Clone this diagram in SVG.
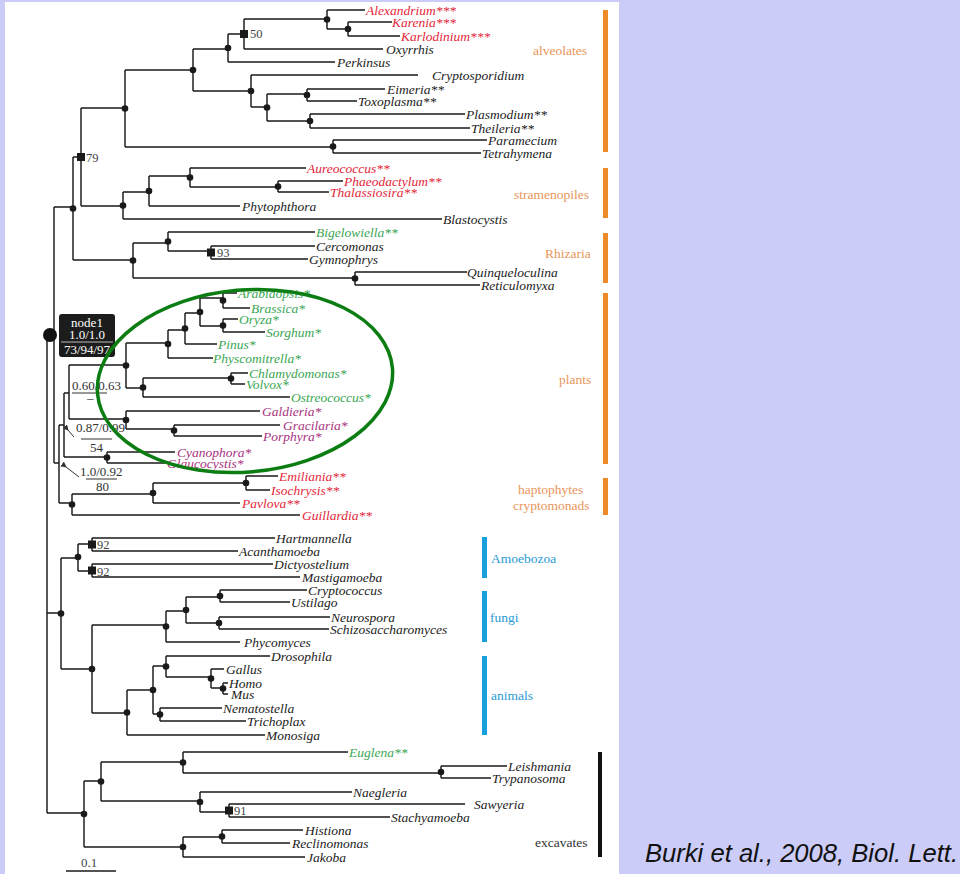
<svg xmlns="http://www.w3.org/2000/svg" width="960" height="874" viewBox="0 0 960 874">
<style>
.e{fill:none;stroke:#1a1a1a;stroke-width:1.45}
.t{font-family:"Liberation Serif",serif;font-style:italic;font-size:13.5px;fill:#222}
.r{fill:#e3263a}.g{fill:#3aa655}.p{fill:#a8327e}
.n{font-family:"Liberation Serif",serif;font-size:12.5px;fill:#444}
.d{fill:#1a1a1a}
.grp{font-family:"Liberation Serif",serif;font-size:13.5px}
.o{fill:#e8955a}.b{fill:#2a9ad6}
.ob{fill:#ee8a2a}.bb{fill:#18a0dc}
.f{font-family:"Liberation Serif",serif;font-size:13px;fill:#333}
</style>
<defs>
<marker id="ah" markerWidth="6" markerHeight="6" refX="1" refY="3" orient="auto" markerUnits="userSpaceOnUse"><path d="M6,0L0,3L6,6z" fill="#333"/></marker>
</defs>
<rect x="0" y="0" width="960" height="874" fill="#ccccf8"/>
<rect x="5" y="2" width="614" height="872" fill="#ffffff"/>
<g id="edges" class="e">
<path d="M47,335V813M47,335H54M54,207V463M54,207H73M47,613H61M47,813H84
M73,157V260M73,157H81M73,260H133M81,108V206M81,108H125M81,206H123
M125,70V147M125,70H193M125,147H333M193,49V91M193,49H228M193,91H251
M228,34V62M228,34H244M228,62H335M244,19V49M244,19H327M244,49H383
M327,10V29M327,10H365M327,29H348M348,22V36M348,22H392M348,36H400
M251,75V107M251,75H418M251,107H267M267,94V121M267,94H307M267,121H310
M307,89V101M307,89H385M307,101H357M310,114V128M310,114H465M310,128H470
M333,140V153M333,140H487M333,153H481
M123,192V219M123,192H149M123,219H442M149,176V206M149,176H190M149,206H240
M190,168V187M190,168H306M190,187H278M278,181V192M278,181H343M278,192H329
M133,243V278M133,243H168M133,278H355M168,232V251M168,232H315M168,251H211
M211,246V259M211,246H315M211,259H308M355,272V285M355,272H467M355,285H480
M54,463H59M59,425V503M59,425H64M59,503H72M64,393V457M64,393H69M64,457H107
M69,365V419M69,365H126M69,419H126M126,343V388M126,343H168M126,388H143
M168,330V358M168,330H185M168,358H213M185,313V344M185,313H200M185,344H217
M200,298V326M200,298H223M200,326H223M223,293V308M223,293H237M223,308H250
M223,319V332M223,319H238M223,332H265M143,378V397M143,378H231M143,397H290
M231,373V384M231,373H248M231,384H245M126,411V429M126,411H260M126,429H174
M174,425V436M174,425H280M174,436H262M107,452V463M107,452H175M107,463H165
M72,494V515M72,494H153M72,515H300M153,483V503M153,483H246M153,503H240
M246,476V490M246,476H278M246,490H270
M61,558V669M61,558H78M61,669H92M78,544V571M78,544H92M78,571H92
M92,538V551M92,538H275M92,551H238M92,564V577M92,564H273M92,577H300
M92,625V713M92,625H166M92,713H127M166,611V642M166,611H186M166,642H240
M186,597V623M186,597H220M186,623H219M220,590V602M220,590H307M220,602H290
M219,617V629M219,617H330M219,629H329M127,690V735M127,690H153M127,735H265
M153,666V714M153,666H166M153,714H160M166,656V677M166,656H270M166,677H211
M211,669V688M211,669H224M211,688H223M223,683V694M223,683H228M223,694H228
M160,708V721M160,708H222M160,721H246
M84,781V847M84,781H101M84,847H183M101,762V801M101,762H183M101,801H200
M183,752V773M183,752H348M183,773H441M441,766V778M441,766H507M441,778H491
M200,792V812M200,792H352M200,812H229M229,804V817M229,804H465M229,817H390
M183,837V857M183,837H222M183,857H305M222,830V843M222,830H303M222,843H290"/>
<path d="M66,871H116"/>
</g>
<g id="internal-nodes" class="d">
<circle cx="125" cy="108.5" r="3.3"/><circle cx="193" cy="70" r="3.3"/><circle cx="228" cy="48" r="3.3"/><circle cx="327" cy="19.5" r="3.3"/><circle cx="348" cy="29" r="3.3"/><circle cx="251" cy="91" r="3.3"/><circle cx="267" cy="107.5" r="3.3"/><circle cx="307" cy="95" r="3.3"/><circle cx="310" cy="121" r="3.3"/><circle cx="333" cy="146.5" r="3.3"/>
<circle cx="123" cy="205.5" r="3.3"/><circle cx="149" cy="191" r="3.3"/><circle cx="190" cy="177.5" r="3.3"/><circle cx="278" cy="186.5" r="3.3"/>
<circle cx="73" cy="208.5" r="3.3"/><circle cx="133" cy="260.5" r="3.3"/><circle cx="168" cy="241.5" r="3.3"/><circle cx="355" cy="278.5" r="3.3"/>
<circle cx="126" cy="365.5" r="3.3"/><circle cx="168" cy="344" r="3.3"/><circle cx="185" cy="328.5" r="3.3"/><circle cx="200" cy="312" r="3.3"/><circle cx="223" cy="300.5" r="3.3"/><circle cx="223" cy="325.5" r="3.3"/><circle cx="143" cy="387.5" r="3.3"/><circle cx="231" cy="378.5" r="3.3"/><circle cx="126" cy="420" r="3.3"/><circle cx="174" cy="430.5" r="3.3"/><circle cx="107" cy="457.5" r="3.3"/><circle cx="72" cy="504.5" r="3.3"/><circle cx="153" cy="493" r="3.3"/><circle cx="246" cy="483" r="3.3"/>
<circle cx="61" cy="613.5" r="3.3"/><circle cx="78" cy="557" r="3.3"/><circle cx="92" cy="669" r="3.3"/><circle cx="166" cy="626.5" r="3.3"/><circle cx="186" cy="610" r="3.3"/><circle cx="220" cy="596" r="3.3"/><circle cx="219" cy="623" r="3.3"/><circle cx="127" cy="712.5" r="3.3"/><circle cx="153" cy="690" r="3.3"/><circle cx="166" cy="666.5" r="3.3"/><circle cx="211" cy="678.5" r="3.3"/><circle cx="223" cy="688.5" r="3.3"/><circle cx="160" cy="714.5" r="3.3"/>
<circle cx="84" cy="814" r="3.3"/><circle cx="101" cy="781.5" r="3.3"/><circle cx="183" cy="762.5" r="3.3"/><circle cx="441" cy="772" r="3.3"/><circle cx="200" cy="802" r="3.3"/><circle cx="183" cy="847" r="3.3"/><circle cx="222" cy="836.5" r="3.3"/>
<rect x="240" y="30" width="8" height="8"/><rect x="77" y="153" width="8" height="8"/><rect x="207" y="248.5" width="8" height="8"/><rect x="88" y="540.5" width="8" height="8"/><rect x="88" y="566.5" width="8" height="8"/><rect x="225" y="806.5" width="8" height="8"/>
<text class="n" x="250" y="38">50</text><text class="n" x="86" y="162">79</text><text class="n" x="217" y="257">93</text><text class="n" x="97" y="549">92</text><text class="n" x="97" y="576">92</text><text class="n" x="234" y="815">91</text>
</g>
<g id="node1">
<circle cx="50" cy="335" r="7" fill="#111"/>
<rect x="59" y="314" width="56" height="43" rx="3" fill="#1c1c1c"/>
<line x1="61" y1="342" x2="113" y2="342" stroke="#bbb" stroke-width="1"/>
<text x="87" y="327" text-anchor="middle" font-family="Liberation Serif,serif" font-size="13" fill="#fff">node1</text>
<text x="87" y="339" text-anchor="middle" font-family="Liberation Serif,serif" font-size="13" fill="#fff">1.0/1.0</text>
<text x="87" y="354" text-anchor="middle" font-family="Liberation Serif,serif" font-size="13" fill="#fff">73/94/97</text>
</g>
<g id="support-labels">
<text class="f" x="72" y="390">0.60/0.63</text><line x1="72" y1="393" x2="107" y2="393" stroke="#333" stroke-width="1"/><text class="f" x="87" y="402">–</text>
<text class="f" x="76" y="432">0.87/0.99</text><line x1="81" y1="439" x2="112" y2="439" stroke="#333" stroke-width="1"/><text class="f" x="90" y="452">54</text>
<text class="f" x="80" y="476">1.0/0.92</text><line x1="86" y1="479" x2="117" y2="479" stroke="#333" stroke-width="1"/><text class="f" x="96" y="491">80</text>
<line x1="74" y1="437" x2="68" y2="430" stroke="#333" stroke-width="1" marker-end="url(#ah)"/>
<line x1="79" y1="477" x2="66" y2="467" stroke="#333" stroke-width="1" marker-end="url(#ah)"/>
</g>
<g id="leaves" class="t">
<g id="alveolate-taxa">
<text class="r" x="366" y="14.5">Alexandrium***</text>
<text class="r" x="392" y="26.5">Karenia***</text>
<text class="r" x="401" y="40.5">Karlodinium***</text>
<text x="386" y="53.5">Oxyrrhis</text>
<text x="337" y="66.5">Perkinsus</text>
<text x="432" y="79.5">Cryptosporidium</text>
<text x="387" y="93.5">Eimeria**</text>
<text x="358" y="105.5">Toxoplasma**</text>
<text x="466" y="118.5">Plasmodium**</text>
<text x="471" y="132.5">Theileria**</text>
<text x="488" y="144.5">Paramecium</text>
<text x="482" y="157.5">Tetrahymena</text>
</g>
<g id="stramenopile-taxa">
<text class="r" x="307" y="172.5">Aureococcus**</text>
<text class="r" x="344" y="185.5">Phaeodactylum**</text>
<text class="r" x="330" y="196.5">Thalassiosira**</text>
<text x="242" y="210.5">Phytophthora</text>
<text x="443" y="223.5">Blastocystis</text>
</g>
<g id="rhizaria-taxa">
<text class="g" x="316" y="236.5">Bigelowiella**</text>
<text x="316" y="250.5">Cercomonas</text>
<text x="309" y="263.5">Gymnophrys</text>
<text x="467" y="276.5">Quinqueloculina</text>
<text x="481" y="289.5">Reticulomyxa</text>
</g>
<g id="plant-taxa">
<text class="g" x="238" y="297.5">Arabidopsis*</text>
<text class="g" x="251" y="312.5">Brassica*</text>
<text class="g" x="239" y="323.5">Oryza*</text>
<text class="g" x="266" y="336.5">Sorghum*</text>
<text class="g" x="218" y="348.5">Pinus*</text>
<text class="g" x="213" y="362.5">Physcomitrella*</text>
<text class="g" x="249" y="377.5">Chlamydomonas*</text>
<text class="g" x="246" y="388.5">Volvox*</text>
<text class="g" x="291" y="401.5">Ostreococcus*</text>
<text class="p" x="262" y="415.5">Galdieria*</text>
<text class="p" x="283" y="429.5">Gracilaria*</text>
<text class="p" x="263" y="440.5">Porphyra*</text>
<text class="p" x="177" y="456.5">Cyanophora*</text>
<text class="p" x="167" y="467.5">Glaucocystis*</text>
</g>
<g id="haptophyte-taxa">
<text class="r" x="279" y="480.5">Emiliania**</text>
<text class="r" x="271" y="494.5">Isochrysis**</text>
<text class="r" x="242" y="507.5">Pavlova**</text>
<text class="r" x="302" y="519.5">Guillardia**</text>
</g>
<g id="unikont-taxa">
<text x="276" y="542.5">Hartmannella</text>
<text x="239" y="555.5">Acanthamoeba</text>
<text x="274" y="568.5">Dictyostelium</text>
<text x="302" y="581.5">Mastigamoeba</text>
<text x="308" y="594.5">Cryptococcus</text>
<text x="291" y="606.5">Ustilago</text>
<text x="331" y="621.5">Neurospora</text>
<text x="330" y="633.5">Schizosaccharomyces</text>
<text x="244" y="646.5">Phycomyces</text>
<text x="271" y="660.5">Drosophila</text>
<text x="226" y="673.5">Gallus</text>
<text x="229" y="687.5">Homo</text>
<text x="231" y="698.5">Mus</text>
<text x="223" y="712.5">Nematostella</text>
<text x="247" y="725.5">Trichoplax</text>
<text x="266" y="739.5">Monosiga</text>
</g>
<g id="excavate-taxa">
<text class="g" x="349" y="756.5">Euglena**</text>
<text x="508" y="770.5">Leishmania</text>
<text x="492" y="782.5">Trypanosoma</text>
<text x="353" y="796.5">Naegleria</text>
<text x="474" y="808.5">Sawyeria</text>
<text x="391" y="821.5">Stachyamoeba</text>
<text x="305" y="834.5">Histiona</text>
<text x="292" y="847.5">Reclinomonas</text>
<text x="307" y="861.5">Jakoba</text>
</g>
</g>
<g id="highlight-ellipse">
<ellipse cx="245" cy="381" rx="148" ry="91" transform="rotate(-5 245 381)" fill="none" stroke="#0b7d12" stroke-width="3.5"/>
</g>
<g id="groups" class="grp">
<g id="g-alveolates"><rect class="ob" x="603" y="10" width="5" height="142"/><text class="o" x="533" y="55">alveolates</text></g>
<g id="g-stramenopiles"><rect class="ob" x="603" y="168" width="5" height="50"/><text class="o" x="514" y="199">stramenopiles</text></g>
<g id="g-rhizaria"><rect class="ob" x="603" y="233" width="5" height="50"/><text class="o" x="545" y="258">Rhizaria</text></g>
<g id="g-plants"><rect class="ob" x="603" y="293" width="5" height="171"/><text class="o" x="559" y="384">plants</text></g>
<g id="g-hapto"><rect class="ob" x="603" y="478" width="5" height="37"/><text class="o" x="518" y="494">haptophytes</text><text class="o" x="513" y="510">cryptomonads</text></g>
<g id="g-amoebozoa"><rect class="bb" x="482" y="537" width="5" height="41"/><text class="b" x="491" y="563">Amoebozoa</text></g>
<g id="g-fungi"><rect class="bb" x="482" y="591" width="5" height="51"/><text class="b" x="490" y="622">fungi</text></g>
<g id="g-animals"><rect class="bb" x="482" y="656" width="5" height="79"/><text class="b" x="491" y="700">animals</text></g>
<g id="g-excavates"><rect x="598" y="752" width="4" height="105" fill="#111"/><text x="535" y="847" fill="#333">excavates</text></g>
</g>
<g id="scale"><text x="81" y="867" font-family="Liberation Serif,serif" font-size="13" fill="#444">0.1</text></g>
<text x="645" y="862" font-family="Liberation Sans,Arial,sans-serif" font-style="italic" font-size="25.6" fill="#111">Burki et al., 2008, Biol. Lett.</text>
</svg>
